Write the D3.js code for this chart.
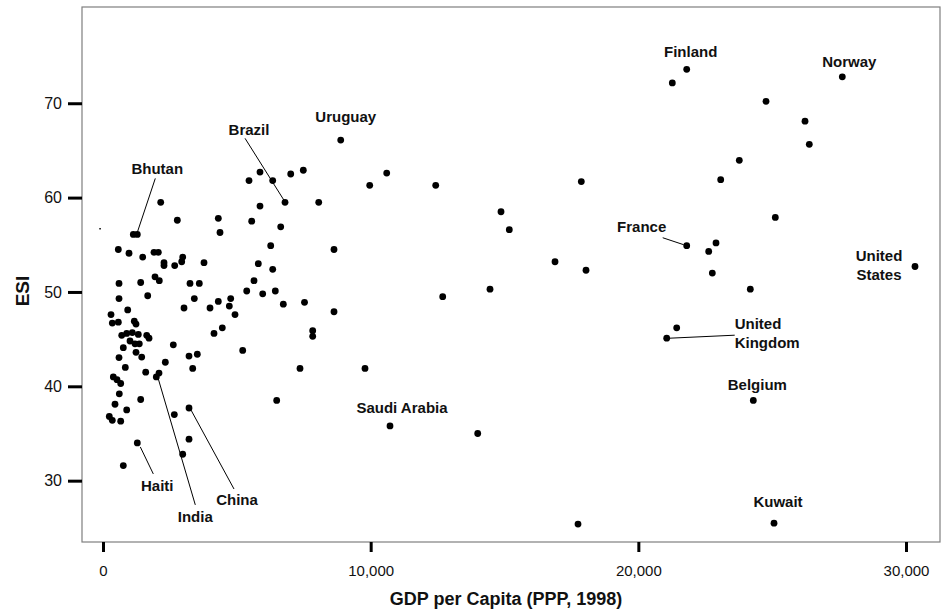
<!DOCTYPE html>
<html>
<head>
<meta charset="utf-8">
<script src="https://cdn.jsdelivr.net/npm/d3@7/dist/d3.min.js"></script>
<style>
  html, body { margin: 0; padding: 0; background: #fff; }
  svg { display: block; font-family: "Liberation Sans", Arial, sans-serif; }
</style>
</head>
<body>
<svg id="chart" width="943" height="609"></svg>
<script>
// ---- Data (GDP per capita PPP 1998, ESI) ----
const gdp = [
  1281, 6800, 8881, 21807, 27620, 21807, 30336, 21060, 24295, 25069, 10722, 1281, 1991, 3213,
  1132, 2156, 2776, 4308, 4371, 5455, 5555, 572, 971, 1483, 1905, 2066, 2279, 2279, 2679, 2978,
  2940, 3773, 598, 1408, 1943, 2103, 3250, 3598, 5369, 598, 1670, 3411, 923, 3026, 3998, 4308,
  4771, 4719, 4932, 299, 347, 572, 1169, 1233, 4147, 4457, 699, 885, 1095, 1319, 1633, 1719,
  1009, 1196, 1356, 2626, 758, 1233, 1446, 598, 3213, 3523, 2328, 833, 3351, 1595, 2092, 385,
  523, 661, 5219, 609, 1408, 448, 885, 2664, 235, 347, 661, 6489, 3213, 2978, 758,
  9964, 5865, 6340, 7013, 7483, 8059, 5865, 6639, 6265, 8630, 5802, 6340, 5641, 5966, 6437,
  6736, 7528, 8630,
  10599, 12430, 14869, 15179, 12691, 14458, 7834, 7834, 7360, 9788, 13999,
  21269, 24770, 26227, 26387, 23772, 23077, 17869, 25117, 22902, 22629, 16887, 18045, 22764,
  24183, 21433, 17746
];
const esi = [
  56.1, 59.5, 66.1, 73.6, 72.8, 54.9, 52.7, 45.1, 38.5, 25.5, 35.8, 34.0, 41.0, 37.7,
  56.1, 59.5, 57.6, 57.8, 56.3, 61.8, 57.5, 54.5, 54.1, 53.7, 54.2, 54.2, 53.1, 52.8, 52.8, 53.7,
  53.2, 53.1, 50.9, 51.0, 51.6, 51.2, 50.9, 50.9, 50.1, 49.3, 49.6, 49.3, 48.1, 48.3, 48.3, 49.0,
  49.3, 48.5, 47.6, 47.6, 46.7, 46.8, 46.9, 46.6, 45.6, 46.2, 45.4, 45.6, 45.7, 45.5, 45.4, 45.1,
  44.8, 44.5, 44.5, 44.4, 44.1, 43.6, 43.1, 43.05, 43.2, 43.4, 42.55, 42.0, 41.9, 41.5, 41.4, 41.0,
  40.7, 40.3, 43.8, 39.2, 38.6, 38.1, 37.5, 37.0, 36.8, 36.4, 36.3, 38.5, 34.4, 32.8, 31.6,
  61.3, 62.7, 61.8, 62.5, 62.9, 59.5, 59.1, 56.9, 54.9, 54.5, 53.0, 52.4, 51.2, 49.8, 50.1,
  48.7, 48.9, 47.9,
  62.6, 61.3, 58.5, 56.6, 49.5, 50.3, 45.9, 45.3, 41.9, 41.9, 35.0,
  72.15, 70.2, 68.1, 65.65, 63.95, 61.9, 61.7, 57.9, 55.2, 54.3, 53.2, 52.3, 52.0,
  50.3, 46.2, 25.4
];
// stray mark visible in the original figure
const strayGdp = [-110];
const strayEsi = [56.7];

const xTicks = [0, 10000, 20000, 30000];
const yTicks = [30, 40, 50, 60, 70];
const xTitle = "GDP per Capita (PPP, 1998)";
const yTitle = "ESI";

// labelled countries: index into the arrays above
const labelNames = ["Bhutan", "Brazil", "Uruguay", "Finland", "Norway", "France",
  "United States", "United Kingdom", "Belgium", "Kuwait", "Saudi Arabia", "Haiti", "India", "China"];
const labelIndex = [0, 1, 2, 3, 4, 5, 6, 7, 8, 9, 10, 11, 12, 13];

// ---- Layout (pixel offsets of annotations relative to their point) ----
const annot = {
  "Bhutan":         { lines: ["Bhutan"], tx: 20, ty: -66, anchor: "middle", lead: [18, -56, 0, -2] },
  "Brazil":         { lines: ["Brazil"], tx: -36, ty: -73, anchor: "middle", lead: [-40, -64, -1, -2] },
  "Uruguay":        { lines: ["Uruguay"], tx: 5, ty: -23, anchor: "middle" },
  "Finland":        { lines: ["Finland"], tx: 4, ty: -18, anchor: "middle" },
  "Norway":         { lines: ["Norway"], tx: 7, ty: -15, anchor: "middle" },
  "France":         { lines: ["France"], tx: -45, ty: -19, anchor: "middle", lead: [-24, -8, -3, -1] },
  "United States":  { lines: ["United", "States"], tx: -36, ty: -11, anchor: "middle" },
  "United Kingdom": { lines: ["United", "Kingdom"], tx: 68, ty: -14, anchor: "start", lead: [68, -3, 3, 0] },
  "Belgium":        { lines: ["Belgium"], tx: 4, ty: -16, anchor: "middle" },
  "Kuwait":         { lines: ["Kuwait"], tx: 4, ty: -21, anchor: "middle" },
  "Saudi Arabia":   { lines: ["Saudi Arabia"], tx: 12, ty: -18, anchor: "middle" },
  "Haiti":          { lines: ["Haiti"], tx: 20, ty: 43, anchor: "middle", lead: [3, 4, 16, 31] },
  "India":          { lines: ["India"], tx: 39, ty: 140, anchor: "middle", lead: [2, 2, 39, 128] },
  "China":          { lines: ["China"], tx: 48, ty: 92, anchor: "middle", lead: [2, 2, 45, 81] }
};

const frame = { left: 82, right: 940, top: 7, bottom: 542 };

const svg = d3.select("#chart");

const x = d3.scaleLinear().domain([-785, 31270]).range([frame.left, frame.right]);
const y = d3.scaleLinear().domain([23.5, 80.2]).range([frame.bottom, frame.top]);

// frame
svg.append("rect")
  .attr("x", frame.left).attr("y", frame.top)
  .attr("width", frame.right - frame.left).attr("height", frame.bottom - frame.top)
  .attr("fill", "none").attr("stroke", "#7f7f7f").attr("stroke-width", 1.2);

// x axis
const xAxis = d3.axisBottom(x).tickValues(xTicks).tickSize(10).tickSizeOuter(0)
  .tickFormat(d3.format(","));
const gx = svg.append("g").attr("transform", `translate(0,${frame.bottom})`).call(xAxis);
gx.select(".domain").remove();
gx.selectAll(".tick line").attr("stroke", "#000").attr("stroke-width", 3);
gx.selectAll(".tick text").attr("font-size", 15).attr("fill", "#111")
  .attr("font-family", "Liberation Sans, Arial, sans-serif").attr("dy", "0.71em").attr("y", 23);

// y axis
const yAxis = d3.axisLeft(y).tickValues(yTicks).tickSize(14).tickSizeOuter(0);
const gy = svg.append("g").attr("transform", `translate(${frame.left},0)`).call(yAxis);
gy.select(".domain").remove();
gy.selectAll(".tick line").attr("stroke", "#000").attr("stroke-width", 3);
gy.selectAll(".tick text").attr("font-size", 16).attr("fill", "#111")
  .attr("font-family", "Liberation Sans, Arial, sans-serif").attr("x", -20);

// titles
svg.append("text").attr("x", 506).attr("y", 605)
  .attr("text-anchor", "middle").attr("font-size", 18).attr("font-weight", "bold")
  .attr("fill", "#111").text(xTitle);
svg.append("text").attr("transform", "translate(29,291) rotate(-90)")
  .attr("text-anchor", "middle").attr("font-size", 19).attr("font-weight", "bold")
  .attr("fill", "#111").text(yTitle);

// points
const pts = gdp.map((g, i) => ({ g, e: esi[i] }));
svg.append("g").selectAll("circle").data(pts).join("circle")
  .attr("cx", d => x(d.g)).attr("cy", d => y(d.e)).attr("r", 3.4).attr("fill", "#000");

// stray mark
svg.append("g").selectAll("rect").data(strayGdp.map((g, i) => ({ g, e: strayEsi[i] }))).join("rect")
  .attr("x", d => x(d.g) - 0.75).attr("y", d => y(d.e) - 0.75).attr("width", 1.5).attr("height", 1.5)
  .attr("fill", "#000");

// annotations
const ann = svg.append("g");
labelNames.forEach((name, k) => {
  const i = labelIndex[k];
  const px = x(gdp[i]), py = y(esi[i]);
  const a = annot[name];
  if (a.lead) {
    ann.append("line")
      .attr("x1", px + a.lead[0]).attr("y1", py + a.lead[1])
      .attr("x2", px + a.lead[2]).attr("y2", py + a.lead[3])
      .attr("stroke", "#000").attr("stroke-width", 1);
  }
  const lineH = 19;
  const t = ann.append("text")
    .attr("text-anchor", a.anchor)
    .attr("font-size", 15).attr("font-weight", "bold").attr("fill", "#111");
  a.lines.forEach((ln, j) => {
    t.append("tspan").attr("x", px + a.tx).attr("y", py + a.ty + j * lineH + 5.3).text(ln);
  });
});
</script>
</body>
</html>
